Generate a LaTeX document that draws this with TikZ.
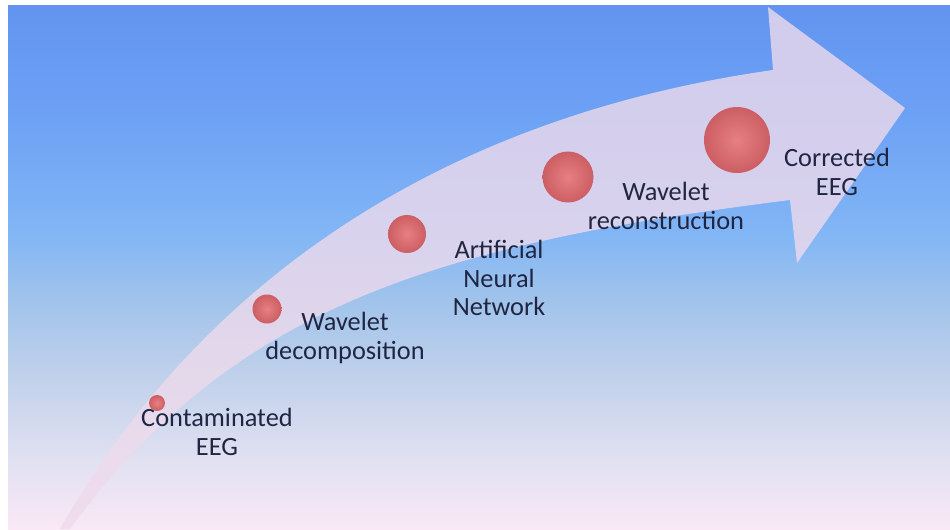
\documentclass[tikz,border=0pt]{standalone}
\usepackage{fontspec}
\setmainfont{Carlito}
\usetikzlibrary{positioning}
\definecolor{skyA}{RGB}{250,232,246}
\definecolor{skyB}{RGB}{225,225,242}
\definecolor{skyC}{RGB}{195,210,235}
\definecolor{skyD}{RGB}{160,195,235}
\definecolor{skyE}{RGB}{130,182,245}
\definecolor{skyF}{RGB}{110,162,245}
\definecolor{skyG}{RGB}{98,148,240}
\definecolor{arrowfill}{RGB}{238,218,236}
\definecolor{ballin}{RGB}{230,128,130}
\definecolor{ballout}{RGB}{204,94,100}
\definecolor{textnavy}{RGB}{32,38,66}
% stops live between 25bp and 75bp, where tikz puts the path
\pgfdeclareverticalshading{skyfade}{100bp}{color(0bp)=(skyA); color(25bp)=(skyA); color(31.5bp)=(skyB); color(39bp)=(skyC); color(47bp)=(skyD); color(53bp)=(skyE); color(64bp)=(skyF); color(75bp)=(skyG); color(100bp)=(skyG)}
\tikzset{
    myball/.style = {circle, inner sep=0pt, shading=radial, inner color=ballin, outer color=ballout},
    mytext/.style = {align=center, text=textnavy, font=\fontsize{15}{16.4}\selectfont},
    myarrow/.style = {fill=arrowfill, fill opacity=0.8}
}

\begin{document}
\begin{tikzpicture}[x=0.02cm, y=-0.02cm]
  \useasboundingbox (0,0) rectangle (950,529);
  \fill[white] (0,0) rectangle (950,529);
  \shade[shading=skyfade] (8,5) rectangle (950,529);
  % big curved arrow
  \fill[myarrow] (60,529) .. controls (190,300) and (420,120) .. (773,70)
    -- (768,7) -- (905,108) -- (797,263) -- (790,200)
    .. controls (430,245) and (230,310) .. (70,529) -- cycle;
  % stages
  \node (ball1) at (157,403) [myball, minimum size=0.32cm] {};
  \node (ball2) at (267,309) [myball, minimum size=0.58cm] {};
  \node (ball3) at (407,234) [myball, minimum size=0.76cm] {};
  \node (ball4) at (568,177) [myball, minimum size=1.02cm] {};
  \node (ball5) at (737,140) [myball, minimum size=1.32cm] {};
  \node (text1) at (217,432) [mytext] {Contaminated\\EEG};
  \node (text2) at (345,338) [mytext] {Wavelet\\decomposition};
  \node (text3) at (499,278) [mytext] {Artificial\\Neural\\Network};
  \node (text4) at (666,206) [mytext] {Wavelet\\reconstruction};
  \node (text5) at (837,172) [mytext] {Corrected\\EEG};
\end{tikzpicture}
\end{document}
